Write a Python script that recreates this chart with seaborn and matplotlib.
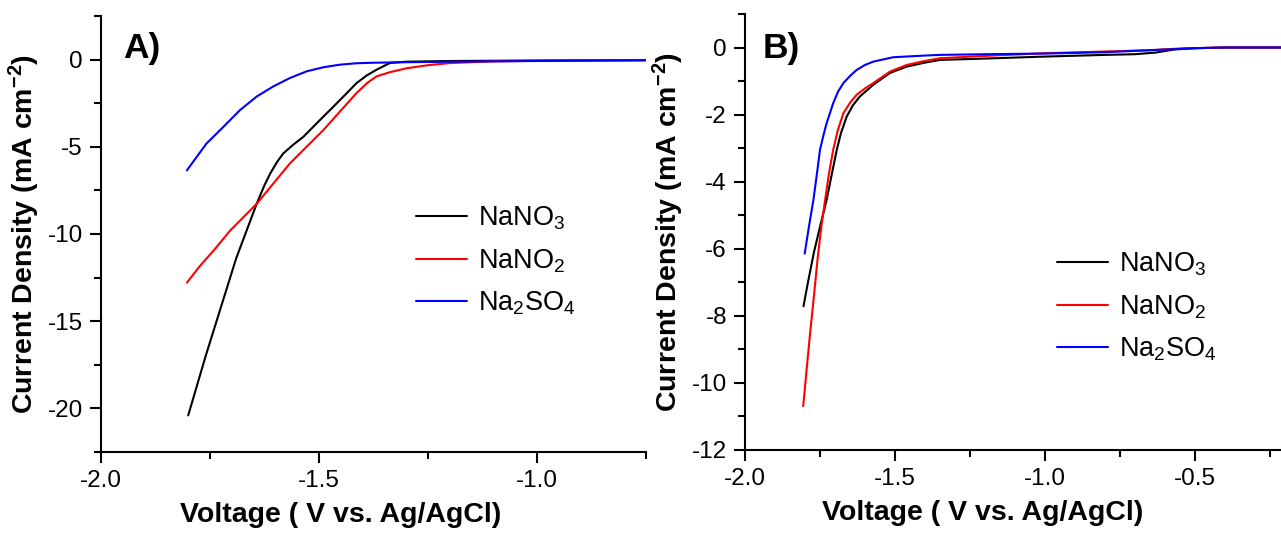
import pandas as pd
import seaborn as sns
import matplotlib.pyplot as plt
from matplotlib.ticker import MultipleLocator

# ---- data (V vs Ag/AgCl, mA cm^-2) ----
salts = ['NaNO$_3$', 'NaNO$_2$', 'Na$_2$SO$_4$']
colors = ['#000000', '#ff0000', '#0000ff']

# panel A
a_nano3_v = [-1.80, -1.76, -1.72, -1.69, -1.666, -1.643, -1.625, -1.612, -1.597, -1.582, -1.56, -1.536,
             -1.513, -1.49, -1.467, -1.444, -1.414, -1.39, -1.368, -1.337, -1.30, -1.2, -1.0, -0.75]
a_nano3_j = [-20.4, -17.0, -13.8, -11.4, -9.8, -8.27, -7.2, -6.54, -5.9, -5.38, -4.9, -4.43,
             -3.85, -3.27, -2.7, -2.12, -1.35, -0.9, -0.58, -0.19, -0.12, -0.08, -0.05, -0.03]
a_nano2_v = [-1.803, -1.773, -1.74, -1.704, -1.643, -1.567, -1.49, -1.414, -1.39, -1.368, -1.337,
             -1.30, -1.25, -1.2, -1.1, -1.0, -0.75]
a_nano2_j = [-12.79, -11.83, -10.9, -9.81, -8.27, -5.96, -4.04, -1.92, -1.35, -0.96, -0.72,
             -0.5, -0.32, -0.2, -0.1, -0.07, -0.03]
a_na2so4_v = [-1.803, -1.758, -1.719, -1.681, -1.643, -1.605, -1.567, -1.528, -1.49, -1.452, -1.414,
              -1.376, -1.3, -1.1, -0.9, -0.75]
a_na2so4_j = [-6.35, -4.81, -3.85, -2.89, -2.12, -1.54, -1.06, -0.67, -0.44, -0.29, -0.21,
              -0.18, -0.15, -0.1, -0.06, -0.04]

# panel B
b_nano3_v = [-1.805, -1.79, -1.77, -1.75, -1.728, -1.71, -1.694, -1.68, -1.661, -1.64, -1.617, -1.572,
             -1.517, -1.461, -1.40, -1.35, -1.2, -1.0, -0.8, -0.7, -0.63, -0.57, -0.5, -0.4, -0.2]
b_nano3_j = [-7.72, -7.0, -6.1, -5.35, -4.55, -3.75, -3.05, -2.55, -2.06, -1.72, -1.46, -1.11,
             -0.76, -0.57, -0.45, -0.37, -0.33, -0.27, -0.22, -0.2, -0.15, -0.06, -0.02, 0.0, 0.0]
b_nano2_v = [-1.806, -1.795, -1.783, -1.77, -1.758, -1.745, -1.733, -1.72, -1.706, -1.69, -1.672, -1.65,
             -1.628, -1.60, -1.572, -1.517, -1.461, -1.40, -1.35, -1.2, -1.0, -0.8, -0.65, -0.55, -0.4, -0.2]
b_nano2_j = [-10.7, -9.65, -8.52, -7.4, -6.3, -5.3, -4.55, -3.75, -3.05, -2.45, -1.96, -1.65,
             -1.41, -1.22, -1.06, -0.72, -0.52, -0.40, -0.32, -0.25, -0.17, -0.12, -0.08, -0.03, 0.0, 0.0]
b_na2so4_v = [-1.801, -1.787, -1.772, -1.76, -1.75, -1.738, -1.728, -1.706, -1.69, -1.672, -1.65, -1.628,
              -1.60, -1.572, -1.506, -1.40, -1.35, -1.2, -1.0, -0.8, -0.6, -0.5, -0.4, -0.2]
b_na2so4_j = [-6.15, -5.35, -4.55, -3.75, -3.05, -2.6, -2.26, -1.66, -1.32, -1.06, -0.85, -0.67,
              -0.52, -0.42, -0.29, -0.24, -0.22, -0.2, -0.18, -0.14, -0.06, -0.02, 0.0, 0.0]


def to_frame(series):
    rows = []
    for name, (v, j) in zip(salts, series):
        rows.append(pd.DataFrame({'voltage': v, 'current': j, 'salt': name}))
    return pd.concat(rows, ignore_index=True)


df_a = to_frame([(a_nano3_v, a_nano3_j), (a_nano2_v, a_nano2_j), (a_na2so4_v, a_na2so4_j)])
df_b = to_frame([(b_nano3_v, b_nano3_j), (b_nano2_v, b_nano2_j), (b_na2so4_v, b_na2so4_j)])

sns.set_style('ticks')
plt.rcParams['font.family'] = ['Liberation Sans', 'DejaVu Sans']
plt.rcParams['mathtext.fontset'] = 'custom'
plt.rcParams['mathtext.rm'] = 'Liberation Sans'
plt.rcParams['mathtext.bf'] = 'Liberation Sans:bold'
plt.rcParams['mathtext.default'] = 'regular'
plt.rcParams['axes.unicode_minus'] = False
# plain black text and axes, like the original
for key in ['text.color', 'axes.labelcolor', 'xtick.color', 'ytick.color', 'axes.edgecolor']:
    plt.rcParams[key] = 'black'

W, H = 1281, 533
fig = plt.figure(figsize=(W / 100, H / 100), dpi=100)
ax_a = fig.add_axes([101 / W, 81 / H, 545 / W, 436 / H])
ax_b = fig.add_axes([745 / W, 83.3 / H, 540 / W, 435.7 / H])

panels = [
    (ax_a, df_a, (-2.0, -0.75), (-22.5, 2.5), 5, 2.5, 'A)', 123, (416, 261)),
    (ax_b, df_b, (-2.0, -0.2), (-12, 1), 2, 1, 'B)', 763, (1057, 307)),
]

for ax, df, xlim, ylim, ymaj, ymin, tag, tag_x, leg_xy in panels:
    sns.lineplot(data=df, x='voltage', y='current', hue='salt', hue_order=salts,
                 palette=colors, estimator=None, sort=False, linewidth=1.5,
                 legend=False, ax=ax)
    ax.set_xlim(*xlim)
    ax.set_ylim(*ylim)
    ax.xaxis.set_major_locator(MultipleLocator(0.5))
    ax.xaxis.set_minor_locator(MultipleLocator(0.25))
    ax.yaxis.set_major_locator(MultipleLocator(ymaj))
    ax.yaxis.set_minor_locator(MultipleLocator(ymin))
    ax.tick_params(which='major', length=8, width=1.5, direction='out', labelsize=17.5, pad=5)
    ax.tick_params(which='minor', length=5, width=1.5, direction='out')
    sns.despine(ax=ax)
    for s in ['left', 'bottom']:
        ax.spines[s].set_linewidth(1.5)
    ax.set_xlabel('Voltage ( V vs. Ag/AgCl)', fontsize=20.5, fontweight='bold')
    ax.set_ylabel(r'Current Density (mA cm$^{\mathbf{-2}}$)', fontsize=20.5, fontweight='bold')
    ax.xaxis.set_label_coords(0.44, -0.115)
    ax.legend(ax.lines[:3], salts, loc='center left', frameon=False, fontsize=19.5,
              bbox_to_anchor=(leg_xy[0] / W, 1 - leg_xy[1] / H), bbox_transform=fig.transFigure,
              borderpad=0, borderaxespad=0, handlelength=1.9, handletextpad=0.38, labelspacing=0.55)
    fig.text(tag_x / W, 1 - 58 / H, tag, fontsize=25.5, fontweight='bold', va='baseline')

fig.savefig('out.png', dpi=100)
